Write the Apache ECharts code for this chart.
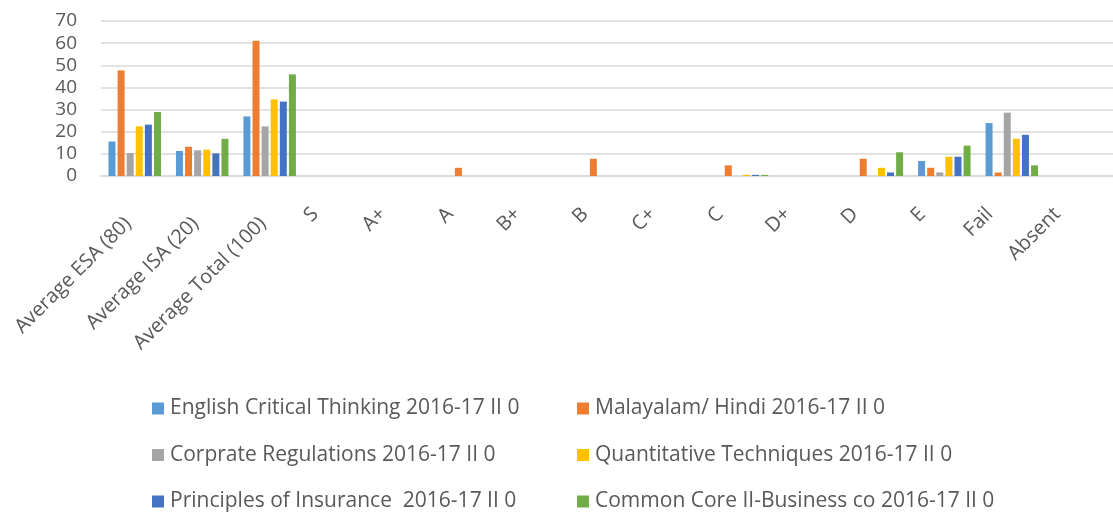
<!DOCTYPE html>
<html>
<head>
<meta charset="utf-8">
<script src="https://cdn.jsdelivr.net/npm/echarts@6/dist/echarts.min.js"></script>
<style>
  html, body { margin: 0; padding: 0; background: #fff; }
  #chart { width: 1113px; height: 513px; }
</style>
</head>
<body>
<div id="chart"></div>
<script>
// categories on the x axis
var categories = ['Average ESA (80)', 'Average ISA (20)', 'Average Total (100)', 'S', 'A+', 'A', 'B+', 'B', 'C+', 'C', 'D+', 'D', 'E', 'Fail', 'Absent'];

// series names and colours
var seriesNames = [
  'English Critical Thinking 2016-17 II 0',
  'Malayalam/ Hindi 2016-17 II 0',
  'Corprate Regulations 2016-17 II 0',
  'Quantitative Techniques 2016-17 II 0',
  'Principles of Insurance  2016-17 II 0',
  'Common Core II-Business co 2016-17 II 0'
];
var colors = ['#5B9BD5', '#ED7D31', '#A5A5A5', '#FFC000', '#4472C4', '#70AD47'];

// values
var english      = [15.6, 11.3, 26.9, 0, 0, 0, 0, 0, 0, 0,   0, 0,   6.8, 23.9, 0];
var malayalam    = [47.7, 13.2, 61.1, 0, 0, 3.7, 0, 7.8, 0, 4.8, 0, 7.8, 3.7, 1.6, 0];
var corprate     = [10.4, 11.6, 22.4, 0, 0, 0, 0, 0, 0, 0,   0, 0,   1.6, 28.6, 0];
var quantitative = [22.4, 11.9, 34.6, 0, 0, 0, 0, 0, 0, 0.5, 0, 3.7, 8.7, 16.8, 0];
var insurance    = [23.2, 10.2, 33.6, 0, 0, 0, 0, 0, 0, 0.5, 0, 1.6, 8.7, 18.6, 0];
var commonCore   = [28.9, 16.8, 45.9, 0, 0, 0, 0, 0, 0, 0.5, 0, 10.7, 13.7, 4.8, 0];

var values = [english, malayalam, corprate, quantitative, insurance, commonCore];

var font = 'Open Sans';
var textColor = '#595959';

var chart = echarts.init(document.getElementById('chart'));

var series = seriesNames.map(function (name, i) {
  return {
    name: name,
    type: 'bar',
    data: values[i],
    barWidth: 7,
    barGap: '30%',
    itemStyle: { color: colors[i] }
  };
});

function legend(idx, left) {
  return {
    orient: 'vertical',
    left: left,
    top: 398,
    height: 115,
    padding: 0,
    itemWidth: 12,
    itemHeight: 12,
    itemGap: 25.5,
    icon: 'rect',
    data: idx.map(function (i) { return seriesNames[i]; }),
    textStyle: { fontFamily: font, fontSize: 21, color: textColor, padding: [0, 0, 0, 1] }
  };
}

chart.setOption({
  animation: false,
  color: colors,
  legend: [legend([0, 2, 4], 152), legend([1, 3, 5], 577)],
  grid: { left: 101, right: 0, top: 21, bottom: 337 },
  xAxis: {
    type: 'category',
    data: categories,
    axisLine: { show: true, lineStyle: { color: '#D9D9D9', width: 1.5 } },
    axisTick: { show: false },
    axisLabel: {
      rotate: 45,
      margin: 40,
      interval: 0,
      fontFamily: font,
      fontSize: 20,
      color: textColor,
      // excel nudges the short grade labels further left than the long ones
      formatter: function (value, index) {
        return index < 3 ? '{l|' + value + '}' : '{s|' + value + '}';
      },
      rich: {
        l: { fontFamily: font, fontSize: 20, color: textColor, padding: [0, 8, 3, 0] },
        s: { fontFamily: font, fontSize: 20, color: textColor, padding: [0, 12, 38, 0] }
      }
    }
  },
  yAxis: {
    type: 'value',
    min: 0,
    max: 70,
    interval: 10,
    axisLine: { show: false },
    axisTick: { show: false },
    splitLine: { lineStyle: { color: '#D9D9D9', width: 1.5 } },
    axisLabel: {
      margin: 24,
      fontFamily: font,
      fontSize: 19,
      color: textColor
    }
  },
  series: series
});
</script>
</body>
</html>
